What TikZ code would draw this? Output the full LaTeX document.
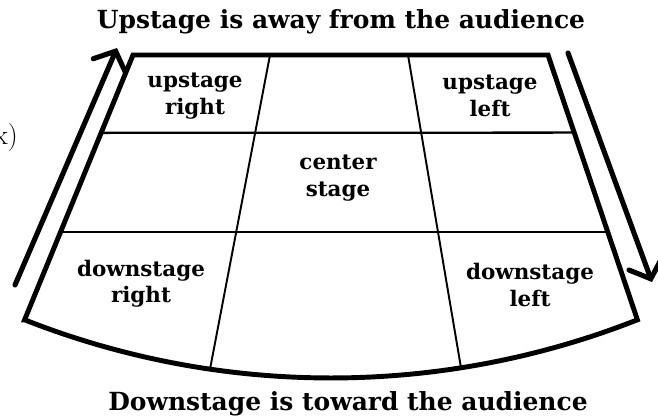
\documentclass[tikz,border=0pt]{standalone}
\usepackage{fontspec}
\newfontfamily\stagefont{DejaVu Serif}
\usepackage{tikz}
\usetikzlibrary{arrows.meta, calc}

\begin{document}
\begin{tikzpicture}[x=0.02cm, y=-0.02cm, align=center,
    cell/.style={font=\stagefont\bfseries\fontsize{12.2}{15}\selectfont},
    heading/.style={font=\stagefont\bfseries\fontsize{14.2}{16}\selectfont},
    rim/.style={line width=2.8pt},
    grid line/.style={line width=1.3pt},
    divider/.style={line width=1.1pt},
    stage arrow/.style={line width=2.9pt, line cap=round, -{Straight Barb[length=9pt, width=20pt, line cap=round]}}]
  \useasboundingbox (0,0) rectangle (658,417);

  % outline of the stage
  \coordinate (tl) at (133,55);
  \coordinate (tr) at (548,55);
  \coordinate (bl) at (24.6,319.8);
  \coordinate (br) at (637.4,319.8);
  \draw [rim] (bl) -- (tl) -- (tr) -- (br) arc[start angle=68.5, end angle=111.5, radius=836] -- cycle;

  % rows
  \draw [grid line] ($(tl)!0.294!(bl)$) -- ($(tr)!0.293!(br)$);
  \draw [grid line] ($(tl)!0.668!(bl)$) -- ($(tr)!0.668!(br)$);
  % columns
  \coordinate (c1top) at (270,55);
  \coordinate (c1bot) at (210,369.2);
  \coordinate (c2top) at (408,55);
  \coordinate (c2bot) at (461,367.8);
  \draw [divider] (c1top) -- (c1bot);
  \draw [divider] (c2top) -- (c2bot);

  % areas of the stage
  \node (ur) [cell] at (195,96) {upstage\\right};
  \node (ul) [cell] at (490,96) {upstage\\left};
  \node (cs) [cell] at (338,178) {center\\stage};
  \node (dr) [cell] at (141,284) {downstage\\right};
  \node (dl) [cell] at (530,285) {downstage\\left};

  \node (up) [heading] at (341,22) {Upstage is away from the audience};
  \node (down) [heading] at (348,404) {Downstage is toward the audience};
  \node (mark) [anchor=east, font=\fontsize{16}{18}\selectfont] at (24,137) {x)};

  % directions
  \coordinate (la) at (15,285);
  \coordinate (lb) at (117,48);
  \coordinate (ra) at (568,53);
  \coordinate (rb) at (652,282);
  \draw [stage arrow] (la) -- (lb);
  \draw [stage arrow] (ra) -- (rb);
\end{tikzpicture}
\end{document}
